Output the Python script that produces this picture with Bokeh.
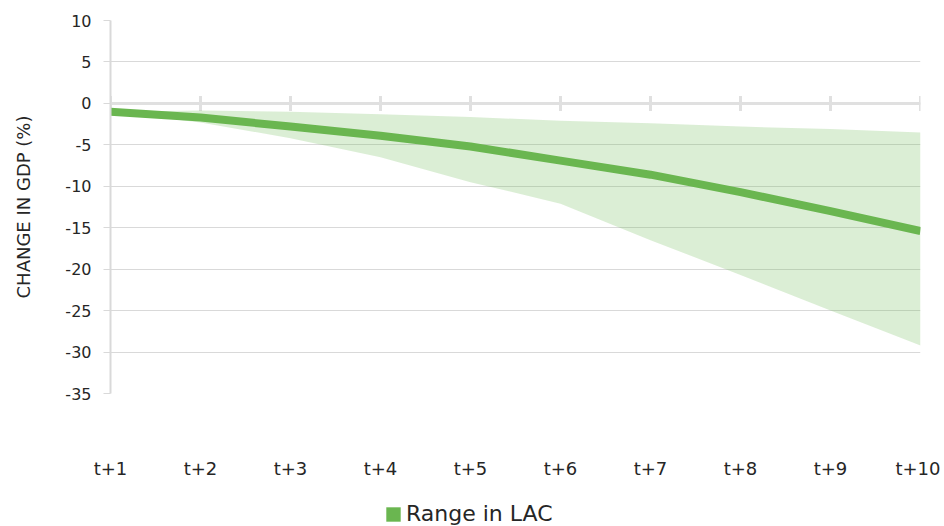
import math
from bokeh.plotting import figure
from bokeh.layouts import column
from bokeh.models import Range1d, FixedTicker, Span, Legend, LegendItem, ColumnDataSource
from bokeh.embed import file_html
from bokeh.resources import INLINE

# ---- data ----
periods = ["t+1", "t+2", "t+3", "t+4", "t+5", "t+6", "t+7", "t+8", "t+9", "t+10"]
central = [-1.0, -1.7, -2.8, -3.9, -5.2, -6.9, -8.6, -10.7, -13.0, -15.4]
upper = [-1.0, -0.85, -1.0, -1.3, -1.65, -2.1, -2.4, -2.8, -3.1, -3.5]
lower = [-1.0, -2.3, -4.2, -6.5, -9.5, -12.1, -16.5, -20.7, -25.0, -29.2]
yticks = [-35, -30, -25, -20, -15, -10, -5, 0, 5, 10]
ylabels = ["-35", "-30", "-25", "-20", "-15", "-10", "-5", "0", "5", "10"]
legend_label = "Range in LAC"
y_title = "CHANGE IN GDP (%)"

GREEN = "#6ab650"
GRID = "#d9d9d9"
TEXT = "#262626"
FONT = "DejaVu Sans"
W = 940

xs = list(range(1, len(periods) + 1))
src = ColumnDataSource(dict(x=xs, c=central, u=upper, l=lower, z=[0] * len(xs)))

p = figure(width=W, height=494, output_backend="svg", toolbar_location=None,
           x_range=Range1d(xs[0], xs[-1]), y_range=Range1d(min(yticks), max(yticks)),
           min_border_left=110, min_border_right=20, min_border_top=20, min_border_bottom=101)
p.outline_line_color = None
p.background_fill_color = "white"
p.border_fill_color = "white"

# grid
p.xgrid.grid_line_color = None
p.ygrid.ticker = FixedTicker(ticks=yticks)
p.ygrid.grid_line_color = GRID
p.ygrid.grid_line_width = 1

# zero line with tick marks
p.add_layout(Span(location=0, dimension="width", line_color="#e0e0e0", line_width=3, level="underlay"))
p.scatter(x="x", y="z", source=src, marker="dash", angle=math.pi / 2, size=15,
          line_color="#e0e0e0", line_width=3)

# band and line
p.varea(x="x", y1="l", y2="u", source=src, fill_color=GREEN, fill_alpha=0.24)
p.line(x="x", y="c", source=src, line_color=GREEN, line_width=8)

# y axis
ya = p.yaxis[0]
ya.ticker = FixedTicker(ticks=yticks)
ya.major_label_overrides = {t: lab for t, lab in zip(yticks, ylabels)}
ya.axis_line_color = GRID
ya.axis_line_width = 2
ya.major_tick_line_color = GRID
ya.major_tick_out = 7
ya.major_tick_in = 0
ya.minor_tick_line_color = None
ya.major_label_standoff = 12
ya.major_label_text_font = FONT
ya.major_label_text_font_size = "16px"
ya.major_label_text_color = TEXT
ya.axis_label = y_title
ya.axis_label_text_font = FONT
ya.axis_label_text_font_size = "18px"
ya.axis_label_text_font_style = "normal"
ya.axis_label_text_color = TEXT
ya.axis_label_standoff = 28

# x axis
xa = p.xaxis[0]
xa.ticker = FixedTicker(ticks=xs)
xa.major_label_overrides = {x: lab for x, lab in zip(xs, periods)}
xa.axis_line_color = None
xa.major_tick_line_color = None
xa.minor_tick_line_color = None
xa.major_label_standoff = 58
xa.major_label_text_font = FONT
xa.major_label_text_font_size = "18px"
xa.major_label_text_color = TEXT

# ---- legend strip ----
lg = figure(width=W, height=32, output_backend="svg", toolbar_location=None,
            x_range=Range1d(-20, -19), y_range=Range1d(0, 1),
            x_axis_location=None, y_axis_location=None,
            min_border=0, min_border_left=0, min_border_right=0,
            min_border_top=0, min_border_bottom=0)
lg.outline_line_color = None
lg.xgrid.grid_line_color = None
lg.ygrid.grid_line_color = None
# same band data, kept out of this strip's view: used only for the legend swatch
sw = lg.varea(x="x", y1="l", y2="u", source=src, fill_color=GREEN)

legend = Legend(items=[LegendItem(label=legend_label, renderers=[sw])],
                location=(274, 0), orientation="horizontal",
                glyph_width=18, glyph_height=18, label_standoff=4,
                padding=0, margin=0, spacing=0,
                label_text_font=FONT, label_text_font_size="22px",
                label_text_color=TEXT, label_height=20,
                border_line_color=None, background_fill_alpha=0)
lg.add_layout(legend, "center")

layout = column(p, lg, spacing=0)
open("out.html", "w").write(file_html(layout, INLINE))
